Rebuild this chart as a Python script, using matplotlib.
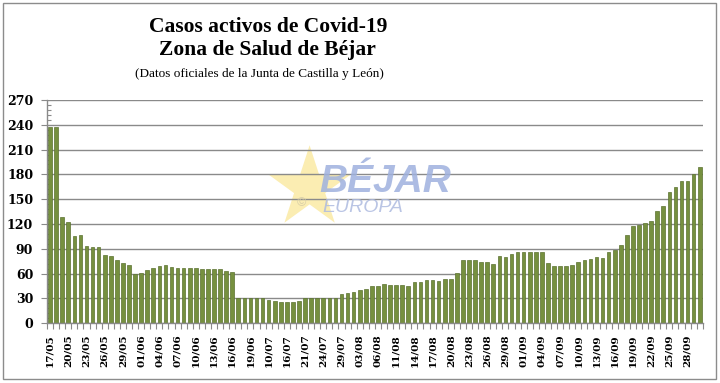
import numpy as np
import matplotlib
matplotlib.use('Agg')
import matplotlib.pyplot as plt
from matplotlib.patches import Rectangle
from matplotlib.ticker import MultipleLocator, FixedLocator

# Casos activos por día (lectura aproximada del gráfico)
casos = [237, 237, 129, 123, 105, 107, 93, 92, 92, 83, 81, 77, 73, 71, 60, 61,
         64, 67, 69, 71, 68, 67, 67, 67, 67, 65, 65, 65, 65, 63, 62,
         30, 31, 31, 31, 30, 28, 27, 26, 26, 26, 27, 30, 30, 30, 31, 31, 31,
         35, 37, 38, 40, 42, 45, 45, 48, 46, 46, 46, 45, 50, 50, 52, 52, 51,
         53, 54, 61,
         77, 77, 77, 74, 74, 72, 81, 80, 84, 86, 86, 86, 86, 86,
         73, 69, 69, 69, 71, 74, 76, 78, 80, 79, 86, 88, 95, 107, 117, 119,
         121, 124, 136, 142, 159, 165, 172, 172, 180, 189]

# Etiquetas del eje X (una de cada tres barras)
etiquetas = ['17/05', '20/05', '23/05', '26/05', '29/05', '01/06', '04/06',
             '07/06', '10/06', '13/06', '16/06', '19/06', '10/07', '16/07',
             '21/07', '24/07', '29/07', '03/08', '06/08', '11/08', '14/08',
             '17/08', '20/08', '23/08', '26/08', '29/08', '01/09', '04/09',
             '07/09', '10/09', '13/09', '16/09', '19/09', '22/09', '25/09',
             '28/09']

plt.rcParams['font.family'] = 'DejaVu Serif'
plt.rcParams['font.weight'] = 'bold'

x = np.arange(len(casos))

fig = plt.figure(figsize=(7.2, 3.83), dpi=100)
ax = fig.add_axes([0.0653, 0.156, 0.9107, 0.583])

ax.bar(x, casos, width=0.6, color='#76903f', edgecolor='#5b7230',
       linewidth=0.5, zorder=2)

ax.set_xlim(-0.5, len(casos) - 0.5)
ax.set_ylim(0, 270)
ax.yaxis.set_major_locator(MultipleLocator(30))
ax.yaxis.set_minor_locator(MultipleLocator(6))
ax.yaxis.grid(True, color='#8a8a8a', linewidth=1.0, zorder=1)
ax.set_axisbelow(True)

ax.set_xticks(x[::3])
ax.set_xticklabels(etiquetas, rotation=90)
ax.xaxis.set_minor_locator(FixedLocator(np.arange(-0.5, len(casos), 1)))

ax.tick_params(axis='x', which='major', length=0, pad=8, labelsize=7.5)
ax.tick_params(axis='x', which='minor', length=4, color='#8a8a8a', width=0.8)
ax.tick_params(axis='y', which='major', length=4, color='#8a8a8a',
               width=0.8, pad=6, labelsize=9)
ax.tick_params(axis='y', which='minor', length=3, direction='in',
               color='#8a8a8a', width=0.8)

for s in ['top', 'right']:
    ax.spines[s].set_visible(False)
for s in ['left', 'bottom']:
    ax.spines[s].set_color('#8a8a8a')
    ax.spines[s].set_linewidth(1.0)

# Marca de agua
ax.scatter([0.43], [0.509], s=3800, marker='*', color='#fbedb2',
           edgecolors='none', transform=fig.transFigure, zorder=0.5,
           clip_on=False)
fig.text(0.535, 0.499, 'BÉJAR', fontfamily='Liberation Sans', fontsize=28,
         fontweight='bold', fontstyle='italic', color='#9fb1de', alpha=0.85,
         ha='center', va='baseline', zorder=3)
fig.text(0.504, 0.446, 'EUROPA', fontfamily='Liberation Sans', fontsize=14,
         fontweight='normal', fontstyle='italic', color='#aebbe0', alpha=0.85,
         ha='center', va='baseline', zorder=3)
fig.text(0.418, 0.47, '©', fontfamily='Liberation Sans', fontsize=9,
         fontweight='normal', color='#d9cfa8', ha='center', va='center',
         zorder=3)

# Títulos
fig.text(0.372, 0.916, 'Casos activos de Covid-19', fontfamily='Liberation Serif',
         fontsize=15.5, fontweight='bold', ha='center', va='baseline')
fig.text(0.372, 0.856, 'Zona de Salud de Béjar', fontfamily='Liberation Serif',
         fontsize=15.5, fontweight='bold', ha='center', va='baseline')
fig.text(0.36, 0.799, '(Datos oficiales de la Junta de Castilla y León)',
         fontfamily='Liberation Serif', fontsize=9.5, fontweight='normal',
         ha='center', va='baseline')

# Marco exterior
fig.patches.append(Rectangle((3 / 720, 4 / 383), 713 / 720, 376 / 383,
                             transform=fig.transFigure, fill=False,
                             edgecolor='#8c8c8c', linewidth=1.0))

fig.savefig('out.png', dpi=100)
